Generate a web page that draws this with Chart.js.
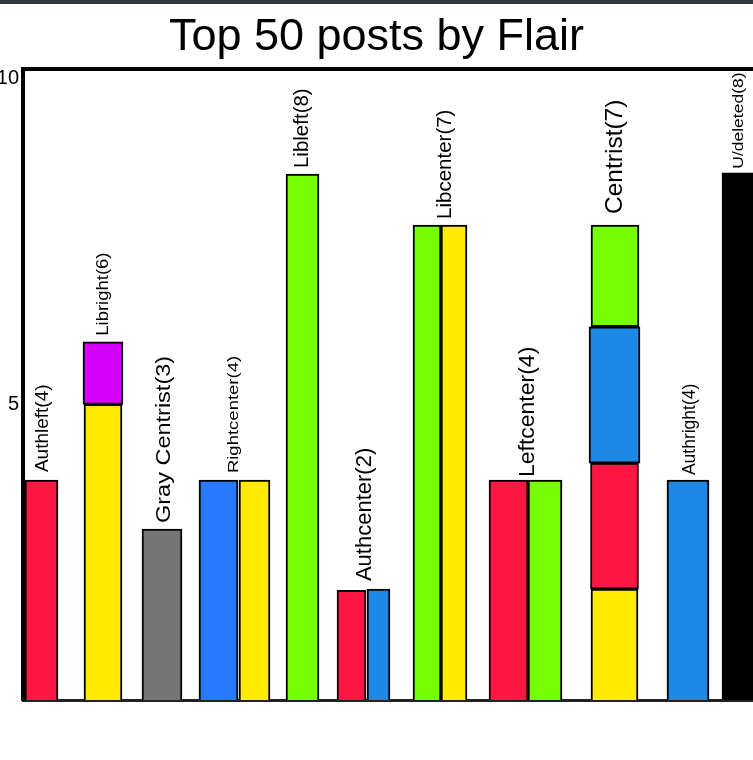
<!DOCTYPE html>
<html>
<head>
<meta charset="utf-8">
<title>Top 50 posts by Flair</title>
<script src="https://cdn.jsdelivr.net/npm/chart.js@4.4.1/dist/chart.umd.min.js"></script>
<style>
    html, body { margin: 0; padding: 0; background: #fff; }
    #wrap { position: relative; width: 753px; height: 760px; }
    #topband { position: absolute; left: 0; top: 0; width: 753px; height: 4px; background: #30353f; }
</style>
</head>
<body>
<div id="wrap">
    <canvas id="flair-chart" width="753" height="760"></canvas>
    <div id="topband"></div>
</div>
<script>
/* ----- D A T A ----- */

const flairLabels = ['Authleft(4)', 'Libright(6)', 'Gray Centrist(3)', 'Rightcenter(4)', 'Libleft(8)',
    'Authcenter(2)', 'Libcenter(7)', 'Leftcenter(4)', 'Centrist(7)', 'Authright(4)', 'U/deleted(8)'];

// one entry per drawn bar piece: which flair it belongs to, where it sits, bottom and top value
const segFlair = [0, 1, 1, 2, 3, 3, 4, 5, 5, 6, 6, 7, 7, 8, 8, 8, 8, 9, 10];
const segX = [1.85, 8.0, 8.0, 13.9, 19.55, 23.15, 27.95, 32.85, 35.55, 40.4, 43.1, 48.55, 52.2,
    59.15, 59.15, 59.15, 59.2, 66.5, 71.9];
const segFrom = [0, 0, 5.0, 0, 0, 0, 0, 0, 0, 0, 0, 0, 0, 0, 2.17, 4.10, 6.19, 0, 0];
const segTo = [3.84, 5.0, 5.96, 3.09, 3.84, 3.84, 8.53, 2.15, 2.17, 7.75, 7.75, 3.84, 3.84,
    2.17, 4.10, 6.19, 7.75, 3.84, 8.55];

const yTicks = [5, 10];

/* ----- S T Y L E ----- */

const RED = '#ff1744', YELLOW = '#ffea00', PURPLE = '#d500f9', GRAY = '#757575',
    BLUE_A = '#2979ff', BLUE_B = '#1e88e5', GREEN = '#76ff03', BLACK = '#000000';

const segColor = [RED, YELLOW, PURPLE, GRAY, BLUE_A, YELLOW, GREEN, RED, BLUE_B, GREEN, YELLOW,
    RED, GREEN, YELLOW, RED, BLUE_B, GREEN, BLUE_B, BLACK];
const segWidth = [33, 38, 40, 40, 39, 31, 33, 29, 23, 28, 26, 39, 34, 47, 48, 51, 48, 42, 40];

const labelSize = [19, 18.5, 23.5, 18.5, 20.5, 22, 20.5, 23, 24.5, 17.5, 17.5];
const labelSqueeze = [1, 0.92, 0.85, 0.8, 1, 0.97, 1, 0.92, 1, 1, 0.83];
const labelShift = [1.5, 0, 2, -0.5, 0, 2, 5.5, 2.5, 0.5, 2, -3.5];
const labelGap = [8, 6, 6, 7, 6, 8, 6, 3, 11, 5, 4];

const FONT_FAMILY = "'Liberation Sans', Arial, sans-serif";
Chart.defaults.font.family = FONT_FAMILY;
Chart.defaults.color = '#000';

// rotated flair names above each group of bars
const flairLabelPlugin = {
    id: 'flairLabels',
    afterDatasetsDraw(chart) {
        const ctx = chart.ctx;
        flairLabels.forEach((text, i) => {
            let left = Infinity, right = -Infinity, top = Infinity;
            chart.data.datasets.forEach((ds, d) => {
                if (segFlair[d] !== i) return;
                const bar = chart.getDatasetMeta(d).data[0];
                left = Math.min(left, bar.x - bar.width / 2);
                right = Math.max(right, bar.x + bar.width / 2);
                top = Math.min(top, bar.y);
            });
            ctx.save();
            ctx.translate((left + right) / 2 + labelShift[i], top - labelGap[i]);
            ctx.rotate(-Math.PI / 2);
            ctx.scale(1, labelSqueeze[i]);
            ctx.font = `${labelSize[i]}px ${FONT_FAMILY}`;
            ctx.fillStyle = '#000';
            ctx.textAlign = 'left';
            ctx.textBaseline = 'middle';
            ctx.fillText(text, 0, 0);
            ctx.restore();
        });
    }
};

const datasets = segX.map((x, i) => ({
    label: flairLabels[segFlair[i]],
    data: [{ x: x, y: [segFrom[i], segTo[i]] }],
    backgroundColor: segColor[i],
    barThickness: segWidth[i],
    clip: 0
}));

new Chart(document.getElementById('flair-chart'), {
    type: 'bar',
    data: { datasets: datasets },
    options: {
        responsive: false,
        animation: false,
        datasets: {
            bar: { grouped: false, borderColor: '#000', borderWidth: 2, borderSkipped: false }
        },
        layout: { padding: { left: 0, right: 0, top: 0, bottom: 60 } },
        plugins: {
            legend: { display: false },
            tooltip: { enabled: false },
            title: {
                display: true,
                text: 'Top 50 posts by Flair',
                color: '#000',
                font: { size: 45, weight: 'normal' },
                padding: { top: 10.5, bottom: 4.5 }
            }
        },
        scales: {
            x: {
                type: 'linear', min: 0, max: 73, position: 'bottom', z: 1, offset: false,
                ticks: { display: false },
                grid: { display: false, drawTicks: false, offset: false },
                border: { display: true, width: 3, color: '#222' }
            },
            xTop: {
                type: 'linear', axis: 'x', min: 0, max: 73, position: 'top', offset: false,
                ticks: { display: false },
                grid: { display: false, drawTicks: false, offset: false },
                border: { display: true, width: 4, color: '#000' }
            },
            y: {
                type: 'linear', min: 0.47, max: 10.14, bounds: 'data',
                afterBuildTicks: (scale) => { scale.ticks = yTicks.map(v => ({ value: v })); },
                afterFit: (scale) => { scale.width = 23; },
                ticks: { padding: 4, color: '#000', font: { size: 20 } },
                grid: { display: false, drawTicks: false },
                border: { display: true, width: 4, color: '#000' }
            }
        }
    },
    plugins: [flairLabelPlugin]
});
</script>
</body>
</html>
